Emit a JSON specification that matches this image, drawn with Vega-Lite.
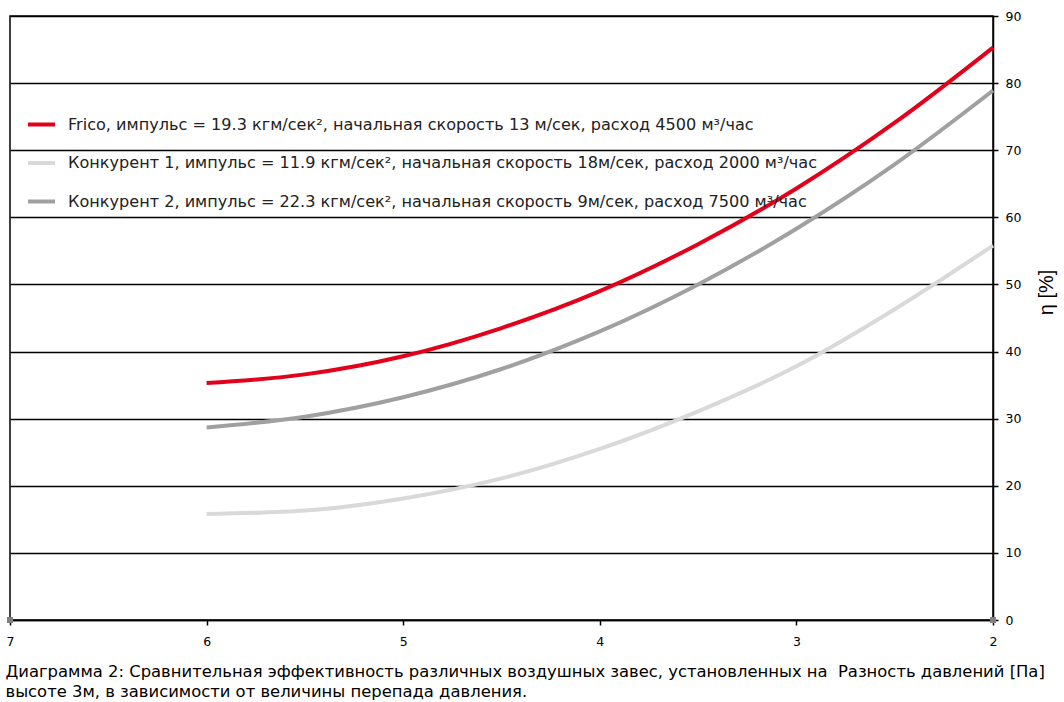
{
  "$schema": "https://vega.github.io/schema/vega-lite/v6.json",
  "width": 983,
  "height": 604,
  "autosize": {"type": "none"},
  "padding": {"left": 10, "top": 16, "right": 71, "bottom": 82},
  "background": "white",
  "config": {
    "view": {"stroke": "black", "strokeWidth": 1.5},
    "font": "DejaVu Sans"
  },
  "datasets": {
    "curves": [
      {"series": "Frico, импульс = 19.3 кгм/сек², начальная скорость 13 м/сек, расход 4500 м³/час", "dp": 6.0, "eff": 35.3},
      {"series": "Frico, импульс = 19.3 кгм/сек², начальная скорость 13 м/сек, расход 4500 м³/час", "dp": 5.5, "eff": 36.6},
      {"series": "Frico, импульс = 19.3 кгм/сек², начальная скорость 13 м/сек, расход 4500 м³/час", "dp": 5.0, "eff": 39.3},
      {"series": "Frico, импульс = 19.3 кгм/сек², начальная скорость 13 м/сек, расход 4500 м³/час", "dp": 4.5, "eff": 43.5},
      {"series": "Frico, импульс = 19.3 кгм/сек², начальная скорость 13 м/сек, расход 4500 м³/час", "dp": 4.0, "eff": 49.0},
      {"series": "Frico, импульс = 19.3 кгм/сек², начальная скорость 13 м/сек, расход 4500 м³/час", "dp": 3.5, "eff": 56.0},
      {"series": "Frico, импульс = 19.3 кгм/сек², начальная скорость 13 м/сек, расход 4500 м³/час", "dp": 3.0, "eff": 64.3},
      {"series": "Frico, импульс = 19.3 кгм/сек², начальная скорость 13 м/сек, расход 4500 м³/час", "dp": 2.5, "eff": 74.1},
      {"series": "Frico, импульс = 19.3 кгм/сек², начальная скорость 13 м/сек, расход 4500 м³/час", "dp": 2.0, "eff": 85.3},
      {"series": "Конкурент 1, импульс = 11.9 кгм/сек², начальная скорость 18м/сек, расход 2000 м³/час", "dp": 6.0, "eff": 15.8},
      {"series": "Конкурент 1, импульс = 11.9 кгм/сек², начальная скорость 18м/сек, расход 2000 м³/час", "dp": 5.5, "eff": 16.3},
      {"series": "Конкурент 1, импульс = 11.9 кгм/сек², начальная скорость 18м/сек, расход 2000 м³/час", "dp": 5.0, "eff": 18.1},
      {"series": "Конкурент 1, импульс = 11.9 кгм/сек², начальная скорость 18м/сек, расход 2000 м³/час", "dp": 4.5, "eff": 21.1},
      {"series": "Конкурент 1, импульс = 11.9 кгм/сек², начальная скорость 18м/сек, расход 2000 м³/час", "dp": 4.0, "eff": 25.5},
      {"series": "Конкурент 1, импульс = 11.9 кгм/сек², начальная скорость 18м/сек, расход 2000 м³/час", "dp": 3.5, "eff": 31.1},
      {"series": "Конкурент 1, импульс = 11.9 кгм/сек², начальная скорость 18м/сек, расход 2000 м³/час", "dp": 3.0, "eff": 37.8},
      {"series": "Конкурент 1, импульс = 11.9 кгм/сек², начальная скорость 18м/сек, расход 2000 м³/час", "dp": 2.5, "eff": 46.3},
      {"series": "Конкурент 1, импульс = 11.9 кгм/сек², начальная скорость 18м/сек, расход 2000 м³/час", "dp": 2.0, "eff": 55.8},
      {"series": "Конкурент 2, импульс = 22.3 кгм/сек², начальная скорость 9м/сек, расход 7500 м³/час", "dp": 6.0, "eff": 28.7},
      {"series": "Конкурент 2, импульс = 22.3 кгм/сек², начальная скорость 9м/сек, расход 7500 м³/час", "dp": 5.5, "eff": 30.3},
      {"series": "Конкурент 2, импульс = 22.3 кгм/сек², начальная скорость 9м/сек, расход 7500 м³/час", "dp": 5.0, "eff": 33.2},
      {"series": "Конкурент 2, импульс = 22.3 кгм/сек², начальная скорость 9м/сек, расход 7500 м³/час", "dp": 4.5, "eff": 37.4},
      {"series": "Конкурент 2, импульс = 22.3 кгм/сек², начальная скорость 9м/сек, расход 7500 м³/час", "dp": 4.0, "eff": 43.0},
      {"series": "Конкурент 2, импульс = 22.3 кгм/сек², начальная скорость 9м/сек, расход 7500 м³/час", "dp": 3.5, "eff": 50.0},
      {"series": "Конкурент 2, импульс = 22.3 кгм/сек², начальная скорость 9м/сек, расход 7500 м³/час", "dp": 3.0, "eff": 58.3},
      {"series": "Конкурент 2, импульс = 22.3 кгм/сек², начальная скорость 9м/сек, расход 7500 м³/час", "dp": 2.5, "eff": 67.9},
      {"series": "Конкурент 2, импульс = 22.3 кгм/сек², начальная скорость 9м/сек, расход 7500 м³/час", "dp": 2.0, "eff": 78.9}
    ],
    "ends": [
      {"dp": 7, "eff": 0},
      {"dp": 2, "eff": 0}
    ]
  },
  "layer": [
    {
      "data": {"name": "curves"},
      "mark": {"type": "line", "strokeWidth": 4, "interpolate": "monotone"},
      "encoding": {
        "x": {
          "field": "dp",
          "type": "quantitative",
          "scale": {"domain": [2, 7], "reverse": true, "nice": false, "zero": false},
          "axis": {
            "values": [2, 3, 4, 5, 6, 7],
            "format": "d",
            "grid": false,
            "domainColor": "black",
            "domainWidth": 1.5,
            "tickColor": "black",
            "tickWidth": 1.5,
            "tickSize": 5,
            "labelFont": "DejaVu Sans",
            "labelFontSize": 12.5,
            "labelColor": "black",
            "labelPadding": 10,
            "labelFlush": false,
            "title": [
              "Диаграмма 2: Сравнительная эффективность различных воздушных завес, установленных на\u00a0 Разность давлений [Па]",
              "высоте 3м, в зависимости от величины перепада давления."
            ],
            "titleFont": "DejaVu Sans",
            "titleFontSize": 16.4,
            "titleFontWeight": "normal",
            "titleColor": "black",
            "titleAlign": "left",
            "titleAnchor": "start",
            "titleX": -5,
            "titleY": 56,
            "titleBaseline": "alphabetic",
            "titleLineHeight": 20
          }
        },
        "y": {
          "field": "eff",
          "type": "quantitative",
          "scale": {"domain": [0, 90], "nice": false},
          "axis": {
            "orient": "right",
            "values": [0, 10, 20, 30, 40, 50, 60, 70, 80, 90],
            "grid": true,
            "gridColor": "black",
            "gridWidth": 1.5,
            "gridOpacity": 1,
            "domainColor": "black",
            "domainWidth": 1.5,
            "tickColor": "black",
            "tickWidth": 1.5,
            "tickSize": 5,
            "labelFont": "DejaVu Sans",
            "labelFontSize": 12.5,
            "labelColor": "black",
            "labelPadding": 7,
            "title": "η [%]",
            "titleFont": "Liberation Sans",
            "titleFontSize": 20,
            "titleFontWeight": "normal",
            "titleColor": "black",
            "titleAngle": -90,
            "titleX": 53,
            "titleY": 276,
            "titleAlign": "center",
            "titleBaseline": "middle"
          }
        },
        "color": {
          "field": "series",
          "type": "nominal",
          "sort": [
            "Frico, импульс = 19.3 кгм/сек², начальная скорость 13 м/сек, расход 4500 м³/час",
            "Конкурент 1, импульс = 11.9 кгм/сек², начальная скорость 18м/сек, расход 2000 м³/час",
            "Конкурент 2, импульс = 22.3 кгм/сек², начальная скорость 9м/сек, расход 7500 м³/час"
          ],
          "scale": {
            "domain": [
              "Frico, импульс = 19.3 кгм/сек², начальная скорость 13 м/сек, расход 4500 м³/час",
              "Конкурент 1, импульс = 11.9 кгм/сек², начальная скорость 18м/сек, расход 2000 м³/час",
              "Конкурент 2, импульс = 22.3 кгм/сек², начальная скорость 9м/сек, расход 7500 м³/час"
            ],
            "range": ["#e2001a", "#d9d9d9", "#a0a0a0"]
          },
          "legend": {
            "orient": "none",
            "legendX": 16,
            "legendY": 93,
            "title": null,
            "symbolType": "stroke",
            "symbolSize": 729,
            "symbolStrokeWidth": 4,
            "labelFont": "DejaVu Sans",
            "labelFontSize": 16.1,
            "labelColor": "#222222",
            "labelOffset": 11,
            "labelLimit": 1000,
            "rowPadding": 14.5,
            "padding": 0
          }
        }
      }
    },
    {
      "data": {"name": "ends"},
      "mark": {"type": "square", "size": 36, "color": "#808080", "opacity": 1},
      "encoding": {
        "x": {"field": "dp", "type": "quantitative"},
        "y": {"field": "eff", "type": "quantitative"}
      }
    }
  ]
}
